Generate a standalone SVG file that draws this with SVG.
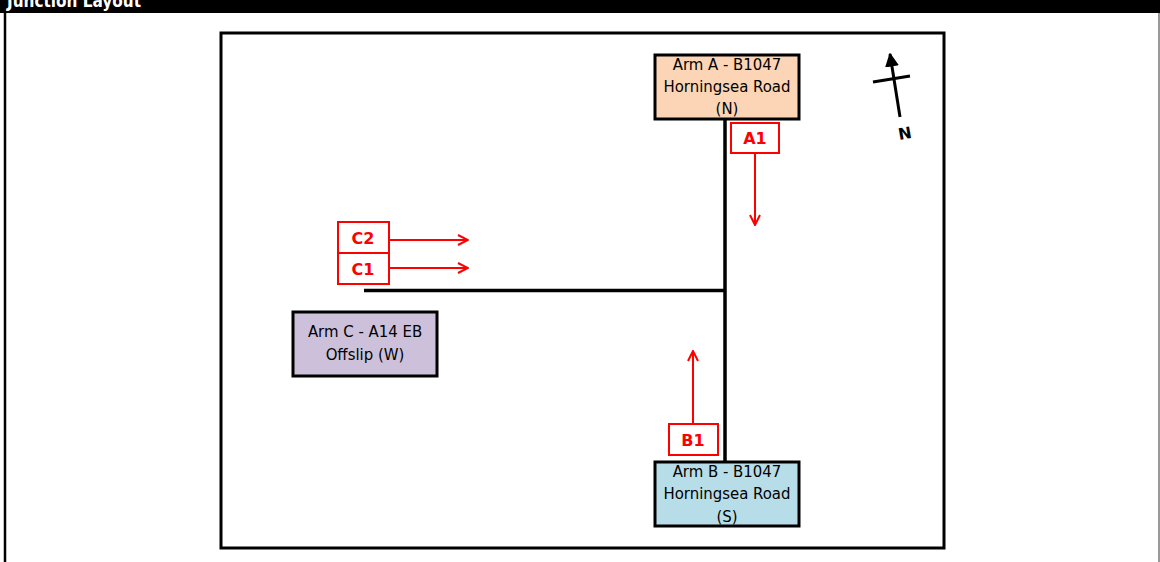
<svg xmlns="http://www.w3.org/2000/svg" width="1160" height="562" viewBox="0 0 1160 562">
<defs>
<style>
.box{stroke:#000;stroke-width:3}
.lbl{font-family:"DejaVu Sans Condensed","Liberation Sans",sans-serif;font-size:16.6px;fill:#000;text-anchor:middle}
.rbox{fill:#fff;stroke:#ff0000;stroke-width:2}
.rlbl{font-family:"DejaVu Sans","Liberation Sans",sans-serif;font-size:16px;font-weight:bold;fill:#ff0000;text-anchor:middle}
.rarrow{stroke:#ff0000;stroke-width:2;fill:none;marker-end:url(#ah)}
.road{stroke:#000;stroke-width:3.5;fill:none}
</style>
<marker id="ah" viewBox="0 0 12 12" refX="11" refY="6" markerWidth="12" markerHeight="12" markerUnits="userSpaceOnUse" orient="auto">
<path d="M1,1 L11,6 L1,11" fill="none" stroke="#ff0000" stroke-width="2"/>
</marker>
<marker id="nh" viewBox="0 0 10 10" refX="9" refY="5" markerWidth="14" markerHeight="14" markerUnits="userSpaceOnUse" orient="auto">
<path d="M0,0 L10,5 L0,10 Z" fill="#000"/>
</marker>
</defs>
<rect x="0" y="0" width="1160" height="562" fill="#fff"/>
<rect x="0" y="0" width="1160" height="13" fill="#000"/>
<text x="7" y="7" font-family="DejaVu Sans Condensed, Liberation Sans, sans-serif" font-size="17" font-weight="bold" fill="#fff">Junction Layout</text>
<line x1="5" y1="13" x2="5" y2="562" stroke="#000" stroke-width="2.5"/>
<line x1="1159" y1="13" x2="1159" y2="562" stroke="#777" stroke-width="1.5"/>
<rect x="221" y="33" width="723" height="515" fill="none" stroke="#000" stroke-width="3"/>

<g id="connectors">
<line class="road" x1="725" y1="120" x2="725" y2="461"/>
<line class="road" x1="364" y1="290.5" x2="725" y2="290.5"/>
<line class="rarrow" x1="755" y1="153" x2="755" y2="225"/>
<line class="rarrow" x1="389" y1="240" x2="468" y2="240"/>
<line class="rarrow" x1="389" y1="268" x2="468" y2="268"/>
<line class="rarrow" x1="693" y1="423" x2="693" y2="351"/>
</g>

<g id="armA">
<rect class="box" x="655" y="55" width="144" height="64" fill="#FBD5B5"/>
<text class="lbl" x="727" y="70">Arm A - B1047</text>
<text class="lbl" x="727" y="92">Horningsea Road</text>
<text class="lbl" x="727" y="114">(N)</text>
</g>
<g id="armB">
<rect class="box" x="655" y="462" width="144" height="64" fill="#B7DDE8"/>
<text class="lbl" x="727" y="477">Arm B - B1047</text>
<text class="lbl" x="727" y="499">Horningsea Road</text>
<text class="lbl" x="727" y="522">(S)</text>
</g>
<g id="armC">
<rect class="box" x="293" y="312" width="144" height="64" fill="#CCC0DA"/>
<text class="lbl" x="365" y="337">Arm C - A14 EB</text>
<text class="lbl" x="365" y="360">Offslip (W)</text>
</g>
<g id="A1">
<rect class="rbox" x="731" y="123" width="48" height="30"/>
<text class="rlbl" x="755" y="144">A1</text>
</g>
<g id="B1">
<rect class="rbox" x="669" y="424" width="49" height="31"/>
<text class="rlbl" x="693" y="446">B1</text>
</g>
<g id="C2">
<rect class="rbox" x="338" y="222" width="51" height="31"/>
<text class="rlbl" x="363" y="244">C2</text>
</g>
<g id="C1">
<rect class="rbox" x="338" y="253" width="51" height="31"/>
<text class="rlbl" x="363" y="275">C1</text>
</g>
<g id="north">
<line x1="900" y1="117" x2="890" y2="54" stroke="#000" stroke-width="3" marker-end="url(#nh)"/>
<line x1="873" y1="82" x2="910" y2="76" stroke="#000" stroke-width="3"/>
<text x="905" y="139" font-family="DejaVu Sans, sans-serif" font-size="16" font-weight="bold" text-anchor="middle" transform="rotate(-10 905 134)">N</text>
</g>
</svg>
